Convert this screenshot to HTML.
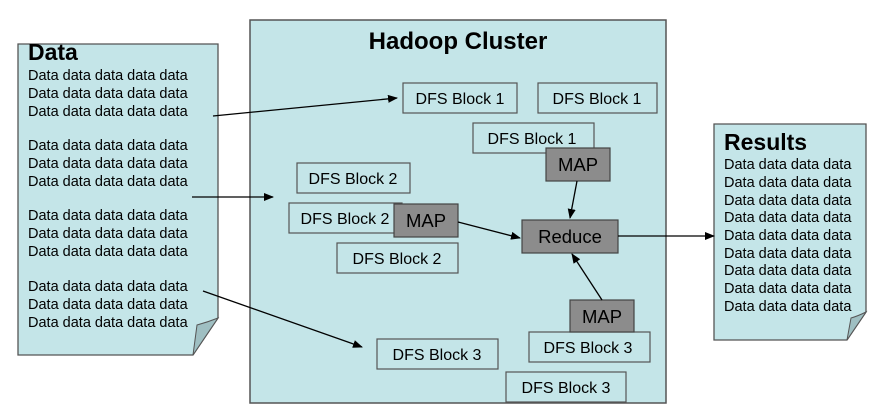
<!DOCTYPE html>
<html><head><style>body{margin:0;background:#fff}svg{display:block}text{font-family:"Liberation Sans",Arial,sans-serif}</style></head><body>
<svg width="874" height="412" viewBox="0 0 874 412" xmlns="http://www.w3.org/2000/svg">
<defs><marker id="a" markerWidth="10" markerHeight="8" refX="9" refY="4" orient="auto" markerUnits="userSpaceOnUse"><path d="M0,0L10,4L0,8z" fill="#000"/></marker></defs>
<rect x="250" y="20" width="416" height="383" fill="#c4e5e8" stroke="#555" stroke-width="1.5"/>
<text x="458" y="49" font-size="24" font-weight="bold" text-anchor="middle">Hadoop Cluster</text>
<path d="M18,44H218V318L193,355H18Z" fill="#c4e5e8" stroke="#555" stroke-width="1.3"/>
<path d="M193,355L197,325Q208,322 218,318Z" fill="#9fbfc2" stroke="#555" stroke-width="1"/>
<text x="28" y="60" font-size="23" font-weight="bold">Data</text>
<g font-size="14.5">
<text x="28" y="80">Data data data data data</text><text x="28" y="98">Data data data data data</text><text x="28" y="116">Data data data data data</text>
<text x="28" y="150">Data data data data data</text><text x="28" y="168">Data data data data data</text><text x="28" y="186">Data data data data data</text>
<text x="28" y="220">Data data data data data</text><text x="28" y="238">Data data data data data</text><text x="28" y="256">Data data data data data</text>
<text x="28" y="291">Data data data data data</text><text x="28" y="309">Data data data data data</text><text x="28" y="327">Data data data data data</text>
</g>
<path d="M714,124H866V312L847,340H714Z" fill="#c4e5e8" stroke="#555" stroke-width="1.3"/>
<path d="M847,340L851,318Q858,316 866,312Z" fill="#9fbfc2" stroke="#555" stroke-width="1"/>
<text x="724" y="150" font-size="23" font-weight="bold">Results</text>
<g font-size="14.5">
<text x="724" y="169">Data data data data</text><text x="724" y="187">Data data data data</text><text x="724" y="205">Data data data data</text>
<text x="724" y="222">Data data data data</text><text x="724" y="240">Data data data data</text><text x="724" y="258">Data data data data</text>
<text x="724" y="275">Data data data data</text><text x="724" y="293">Data data data data</text><text x="724" y="311">Data data data data</text>
</g>
<g fill="#c4e5e8" stroke="#555" stroke-width="1.2">
<rect x="403" y="83" width="114" height="30"/><rect x="538" y="83" width="119" height="30"/>
<rect x="473" y="123" width="121" height="30"/>
<rect x="297" y="163" width="113" height="30"/><rect x="289" y="203" width="113" height="30"/>
<rect x="337" y="243" width="121" height="30"/>
<rect x="529" y="332" width="121" height="30"/><rect x="377" y="339" width="121" height="30"/><rect x="506" y="372" width="120" height="30"/>
</g>
<g font-size="16" text-anchor="middle">
<text x="460" y="104">DFS Block 1</text><text x="597" y="104">DFS Block 1</text>
<text x="532" y="144">DFS Block 1</text>
<text x="353" y="184">DFS Block 2</text><text x="345" y="224">DFS Block 2</text>
<text x="397" y="264">DFS Block 2</text>
<text x="588" y="353">DFS Block 3</text><text x="437" y="360">DFS Block 3</text><text x="566" y="393">DFS Block 3</text>
</g>
<g fill="#8c8c8c" stroke="#444" stroke-width="1.2">
<rect x="546" y="148" width="64" height="33"/><rect x="394" y="204" width="64" height="33"/>
<rect x="522" y="220" width="96" height="33"/><rect x="570" y="300" width="64" height="32"/>
</g>
<g font-size="18.5" text-anchor="middle">
<text x="578" y="171">MAP</text><text x="426" y="227">MAP</text><text x="570" y="243">Reduce</text><text x="602" y="323">MAP</text>
</g>
<g stroke="#000" stroke-width="1.3" marker-end="url(#a)">
<line x1="213" y1="116" x2="397" y2="98"/>
<line x1="192" y1="197" x2="273" y2="197"/>
<line x1="203" y1="291" x2="362" y2="347"/>
<line x1="577" y1="181" x2="570" y2="218"/>
<line x1="458" y1="222" x2="520" y2="238"/>
<line x1="602" y1="300" x2="572" y2="254"/>
<line x1="618" y1="236" x2="714" y2="236"/>
</g>
</svg>
</body></html>
